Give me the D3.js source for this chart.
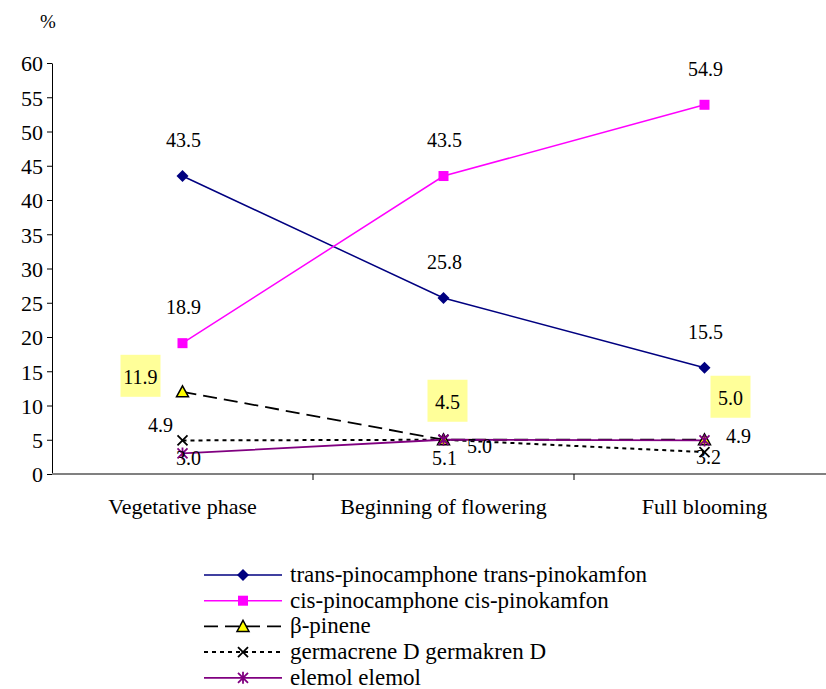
<!DOCTYPE html>
<html><head><meta charset="utf-8">
<script src="https://cdn.jsdelivr.net/npm/d3@7"></script>
<style>body{margin:0;background:#fff} svg text{font-family:"Liberation Serif","DejaVu Serif",serif;}</style>
</head><body>
<svg id="c" width="826" height="689"></svg>
<script>
const categories = ["Vegetative phase", "Beginning of flowering", "Full blooming"];
const yTicks = [0,5,10,15,20,25,30,35,40,45,50,55,60];
const seriesNames = ["trans-pinocamphone trans-pinokamfon","cis-pinocamphone cis-pinokamfon","β-pinene","germacrene D germakren D","elemol elemol"];
const transVals = [43.5, 25.7, 15.5];
const cisVals = [19.1, 43.5, 53.9];
const pineneVals = [12.0, 5.0, 5.0];
const germVals = [4.9, 5.0, 3.2];
const elemolVals = [3.0, 5.0, 4.9];
// data label texts as shown in chart
const transLabels = ["43.5","25.8","15.5"];
const cisLabels = ["18.9","43.5","54.9"];
const pineneLabels = ["11.9","4.5","5.0"];
const germLabels = ["4.9","5.0","3.2"];
const elemolLabels = ["3.0","5.1","4.9"];

const svg = d3.select("#c");
const x = d3.scaleBand().domain(categories).range([52, 835]);
const y = d3.scaleLinear().domain([0,60]).range([474, 63]);
const cx = c => x(c) + x.bandwidth()/2;

// Y axis
const ya = svg.append("g").attr("transform","translate(52,0)")
  .call(d3.axisLeft(y).tickValues(yTicks).tickSize(5).tickSizeOuter(0));
ya.attr("font-family",null);
ya.select(".domain").attr("stroke","#000");
ya.selectAll("line").attr("stroke","#000");
ya.selectAll("text").attr("font-size",22).attr("fill","#000").attr("x",-9).attr("dy","0.36em");
svg.append("text").attr("x",48).attr("y",28).attr("text-anchor","middle")
  .attr("font-size",19).text("%");

// X axis
const xa = svg.append("g").attr("transform","translate(0,474)");
xa.append("line").attr("x1",52).attr("x2",835).attr("stroke","#808080").attr("stroke-width",2);
xa.selectAll("line.t").data(categories.slice(1)).enter().append("line")
  .attr("x1",d=>x(d)).attr("x2",d=>x(d)).attr("y1",0).attr("y2",6).attr("stroke","#000");
xa.selectAll("text").data(categories).enter().append("text")
  .attr("x",d=>cx(d)).attr("y",40).attr("text-anchor","middle")
  .attr("font-size",22).text(d=>d);

const series = [
  {name:seriesNames[0], vals:transVals, color:"#000080", dash:null, marker:"diamond", w:1.5},
  {name:seriesNames[1], vals:cisVals, color:"#FF00FF", dash:null, marker:"square", w:1.5},
  {name:seriesNames[2], vals:pineneVals, color:"#000", dash:"14,7", marker:"triangle", w:1.8},
  {name:seriesNames[3], vals:germVals, color:"#000", dash:"4,4", marker:"x", w:2},
  {name:seriesNames[4], vals:elemolVals, color:"#800080", dash:null, marker:"star", w:1.8}
];

function drawMarker(g, type, px, py, color){
  if(type==="diamond"){
    g.append("path").attr("d",`M${px},${py-6}L${px+6},${py}L${px},${py+6}L${px-6},${py}Z`).attr("fill",color);
  } else if(type==="square"){
    g.append("rect").attr("x",px-5).attr("y",py-5).attr("width",10).attr("height",10).attr("fill",color);
  } else if(type==="triangle"){
    g.append("path").attr("d",`M${px},${py-6}L${px+6},${py+5}L${px-6},${py+5}Z`).attr("fill","#FFFF00").attr("stroke","#000").attr("stroke-width",1.5);
  } else if(type==="x"){
    g.append("path").attr("d",`M${px-5},${py-5}L${px+5},${py+5}M${px+5},${py-5}L${px-5},${py+5}`).attr("stroke","#000").attr("stroke-width",1.8);
  } else if(type==="star"){
    g.append("path").attr("d",`M${px-5},${py-5}L${px+5},${py+5}M${px+5},${py-5}L${px-5},${py+5}M${px},${py-6}L${px},${py+6}`).attr("stroke",color).attr("stroke-width",1.8);
  }
}

const line = d3.line().x((d,i)=>cx(categories[i])).y(d=>y(d));
const plot = svg.append("g");
series.forEach(s=>{
  plot.append("path").datum(s.vals).attr("d",line).attr("fill","none")
    .attr("stroke",s.color).attr("stroke-width",s.w).attr("stroke-dasharray",s.dash);
});
series.forEach(s=>{
  s.vals.forEach((v,i)=>drawMarker(plot,s.marker,cx(categories[i]),y(v),s.color));
});

const lab = svg.append("g").attr("font-size",20).attr("fill","#000");
function dl(txt, i, v, dx, dy, hl){
  const px = cx(categories[i]) + dx, py = y(v) + dy;
  if(hl){
    lab.append("rect").attr("x",px-20).attr("y",py-29).attr("width",40).attr("height",42).attr("fill","#FFFF99");
  }
  lab.append("text").attr("x",px).attr("y",py).attr("text-anchor","middle").text(txt);
}
[0,1,2].forEach(i=>dl(transLabels[i], i, transVals[i], 1, -29, false));
[0,1,2].forEach(i=>dl(cisLabels[i], i, cisVals[i], 1, -29, false));
dl(pineneLabels[0],0,pineneVals[0],-42,-8,true);
dl(pineneLabels[1],1,pineneVals[1],4,-31,true);
dl(pineneLabels[2],2,pineneVals[2],26,-35,true);
dl(germLabels[0],0,germVals[0],-22,-8,false);
dl(germLabels[1],1,germVals[1],36,13,false);
dl(germLabels[2],2,germVals[2],4,12,false);
dl(elemolLabels[0],0,elemolVals[0],6,12,false);
dl(elemolLabels[1],1,elemolVals[1],1,25,false);
dl(elemolLabels[2],2,elemolVals[2],34,3,false);

// Legend
const lg = svg.append("g");
series.forEach((s,i)=>{
  const ly = 575 + i*25.7;
  lg.append("line").attr("x1",204).attr("x2",282).attr("y1",ly).attr("y2",ly)
    .attr("stroke",s.color).attr("stroke-width",s.w).attr("stroke-dasharray",s.dash);
  drawMarker(lg,s.marker,243,ly,s.color);
  lg.append("text").attr("x",290).attr("y",ly+7).attr("font-size",23).text(s.name);
});
</script>
</body></html>
